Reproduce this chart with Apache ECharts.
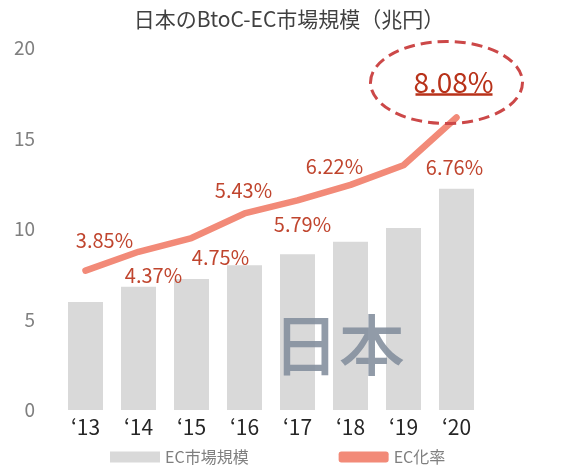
<!DOCTYPE html>
<html>
<head>
<meta charset="utf-8">
<script src="https://cdn.jsdelivr.net/npm/echarts@6/dist/echarts.min.js"></script>
<style>
  html, body { margin: 0; padding: 0; background: #fff; }
  #chart { width: 578px; height: 472px; }
</style>
</head>
<body>
<div id="chart"></div>
<script>
// data
var years = ['\u201813', '\u201814', '\u201815', '\u201816', '\u201817', '\u201818', '\u201819', '\u201820'];
var marketSize = [5.97, 6.81, 7.24, 8.00, 8.60, 9.30, 10.05, 12.23];   // EC市場規模 (兆円)
var ecRate = [3.85, 4.37, 4.75, 5.43, 5.79, 6.22, 6.76, 8.08];          // EC化率 (%)
var yTicks = [0, 5, 10, 15, 20];

var FONT = '"Noto Sans CJK JP", "Noto Sans", sans-serif';
// where each rate label sits relative to its point
var labelOffsets = [[19, -30], [15, 24], [29, 19], [-1, -23], [5, 24], [-16, -18], [51, 2], [-3, -35]];

var chart = echarts.init(document.getElementById('chart'), null, { renderer: 'canvas' });

var rateData = ecRate.map(function (v, i) {
  var last = i === ecRate.length - 1;
  return {
    value: v,
    label: {
      offset: labelOffsets[i],
      fontSize: last ? 28 : 20,
      color: last ? '#B8321A' : '#C0452E'
    }
  };
});

var option = {
  animation: false,
  title: {
    text: '日本のBtoC-EC市場規模（兆円）',
    left: 'center',
    top: 4,
    textStyle: { fontFamily: FONT, fontSize: 21, fontWeight: 'normal', color: '#404040' }
  },
  grid: { left: 59, right: 95, top: 48, bottom: 62 },
  legend: {
    bottom: 2,
    left: 105,
    itemGap: 90,
    textStyle: { fontFamily: FONT, fontSize: 16, color: '#7f7f7f' },
    data: [
      { name: 'EC市場規模', icon: 'rect', itemWidth: 50, itemHeight: 11 },
      { name: 'EC化率', icon: 'roundRect', itemWidth: 53, itemHeight: 6 }
    ],
    itemWidth: 50,
    itemHeight: 11
  },
  xAxis: {
    type: 'category',
    data: years,
    axisLine: { show: false },
    axisTick: { show: false },
    axisLabel: { fontFamily: FONT, fontSize: 21, color: '#262626', margin: 7 }
  },
  yAxis: [
    {
      type: 'value',
      min: yTicks[0],
      max: yTicks[yTicks.length - 1],
      interval: 5,
      splitLine: { show: false },
      axisLine: { show: false },
      axisTick: { show: false },
      axisLabel: { fontFamily: FONT, fontSize: 19, color: '#7f7f7f', margin: 24 }
    },
    {
      type: 'value',
      min: 0,
      max: 10,
      show: false,
      splitLine: { show: false }
    }
  ],
  series: [
    {
      name: 'EC市場規模',
      type: 'bar',
      data: marketSize,
      barWidth: 35,
      itemStyle: { color: '#D9D9D9' },
      z: 1
    },
    {
      name: 'EC化率',
      type: 'line',
      yAxisIndex: 1,
      data: rateData,
      symbol: 'circle',
      symbolSize: 0,
      showSymbol: true,
      lineStyle: { color: '#F28A78', width: 6.5, cap: 'round', join: 'round' },
      itemStyle: { color: '#F28A78' },
      label: {
        show: true,
        position: 'inside',
        align: 'center',
        verticalAlign: 'middle',
        fontFamily: FONT,
        formatter: function (p) { return p.value.toFixed(2) + '%'; }
      },
      z: 3
    }
  ]
};
chart.setOption(option);

// annotations: big "日本", dashed ellipse and underline around the last rate
var lastIdx = ecRate.length - 1;
var lastPt = chart.convertToPixel({ xAxisIndex: 0, yAxisIndex: 1 }, [lastIdx, ecRate[lastIdx]]);
// category axis snaps to whole categories, so blend between '17 and '18
var p17 = chart.convertToPixel({ xAxisIndex: 0, yAxisIndex: 0 }, [4, 3.6]);
var p18 = chart.convertToPixel({ xAxisIndex: 0, yAxisIndex: 0 }, [5, 3.6]);
var midX = p17[0] + (p18[0] - p17[0]) * 0.78;
var midY = p17[1];
var lx = lastPt[0] + labelOffsets[lastIdx][0];
var ly = lastPt[1] + labelOffsets[lastIdx][1];

chart.setOption({
  graphic: [
    {
      type: 'text',
      x: midX,
      y: midY,
      z: 10,
      style: {
        text: '日本',
        font: '500 66px "Noto Sans CJK JP", sans-serif',
        fill: 'rgba(130,141,156,0.88)',
        align: 'center',
        verticalAlign: 'middle'
      }
    },
    {
      type: 'ellipse',
      z: 10,
      shape: { cx: lx - 7, cy: ly, rx: 76, ry: 41 },
      style: { fill: null, stroke: '#CC4848', lineWidth: 3, lineDash: [11, 6] }
    },
    {
      type: 'line',
      z: 10,
      shape: { x1: lx - 38, y1: ly + 12, x2: lx + 39, y2: ly + 12 },
      style: { stroke: '#B8321A', lineWidth: 2.5 }
    }
  ]
});
</script>
</body>
</html>
